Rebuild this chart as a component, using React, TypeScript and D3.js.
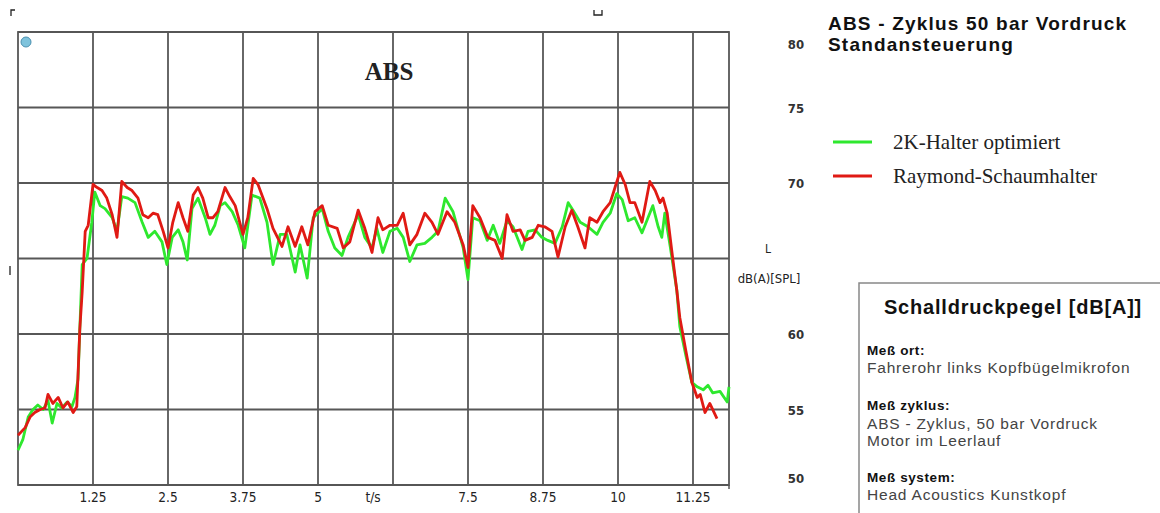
import React, { useRef, useEffect } from 'react';
import * as d3 from 'd3';

// time ticks (s) and their labels; 6.25 carries no label, "t/s" sits beside it
const xTicks = [1.25, 2.5, 3.75, 5, 6.25, 7.5, 8.75, 10, 11.25];
const xTickLabels = ['1.25', '2.5', '3.75', '5', '', '7.5', '8.75', '10', '11.25'];
const yTicks = [50, 55, 60, 65, 70, 75, 80];
const yTickLabels = ['50', '55', '60', '', '70', '75', '80'];

// [t in s, level in dB(A)]
const green2K = [
  [0, 52.3], [0.08, 53.0], [0.17, 54.5], [0.25, 55.0], [0.33, 55.3], [0.42, 55.0], [0.5, 55.6],
  [0.57, 54.1], [0.65, 55.4], [0.73, 55.1], [0.82, 55.5], [0.9, 55.2], [0.95, 55.8], [1.0, 57.0],
  [1.03, 60.3], [1.07, 64.6], [1.15, 65.0], [1.23, 67.4], [1.28, 69.4], [1.37, 68.5], [1.45, 68.3],
  [1.57, 67.7], [1.65, 66.8], [1.73, 69.1], [1.83, 69.0], [1.95, 68.7], [2.07, 67.4], [2.17, 66.4],
  [2.28, 66.8], [2.4, 66.1], [2.48, 64.6], [2.57, 66.4], [2.67, 66.9], [2.75, 66.1], [2.82, 64.9],
  [2.9, 68.3], [3.0, 69.0], [3.12, 67.7], [3.2, 66.6], [3.28, 67.2], [3.37, 68.5], [3.45, 68.7],
  [3.57, 68.1], [3.67, 67.2], [3.78, 65.7], [3.9, 69.2], [4.03, 69.0], [4.15, 67.4], [4.25, 64.6],
  [4.37, 66.6], [4.48, 66.6], [4.62, 64.1], [4.7, 65.9], [4.82, 63.7], [4.92, 67.7], [5.07, 68.3],
  [5.17, 66.8], [5.28, 65.7], [5.4, 65.2], [5.5, 66.4], [5.67, 67.9], [5.78, 66.4], [5.9, 65.7],
  [5.98, 67.0], [6.08, 65.4], [6.2, 66.8], [6.32, 67.0], [6.42, 66.4], [6.53, 64.8], [6.65, 65.9],
  [6.78, 66.0], [6.9, 66.4], [7.0, 66.8], [7.12, 69.0], [7.25, 68.1], [7.42, 65.7], [7.5, 63.6],
  [7.58, 67.7], [7.7, 67.5], [7.82, 66.2], [7.92, 67.2], [8.03, 66.0], [8.15, 67.5], [8.25, 67.1],
  [8.4, 65.6], [8.5, 66.8], [8.62, 66.9], [8.73, 66.4], [8.83, 66.2], [8.95, 66.0], [9.07, 67.1],
  [9.17, 68.7], [9.25, 68.2], [9.37, 67.4], [9.5, 67.1], [9.65, 66.6], [9.75, 67.4], [9.87, 68.0],
  [9.98, 69.3], [10.07, 68.9], [10.17, 67.5], [10.28, 67.7], [10.4, 66.7], [10.5, 67.7], [10.58, 68.5],
  [10.67, 67.1], [10.73, 66.4], [10.78, 68.0], [10.87, 65.8], [10.98, 62.9], [11.03, 60.5],
  [11.13, 58.6], [11.23, 56.8], [11.32, 56.5], [11.42, 56.3], [11.5, 56.6], [11.58, 56.1],
  [11.7, 56.2], [11.82, 55.5], [11.85, 56.5],
];

const redRaymond = [
  [0, 53.3], [0.12, 53.8], [0.2, 54.5], [0.28, 54.8], [0.37, 55.0], [0.45, 55.1], [0.5, 56.0],
  [0.58, 55.4], [0.67, 55.8], [0.75, 55.1], [0.83, 55.5], [0.92, 54.8], [0.98, 55.2], [1.03, 60.3],
  [1.07, 62.8], [1.12, 66.8], [1.17, 67.2], [1.25, 69.9], [1.32, 69.7], [1.4, 69.5], [1.48, 69.0],
  [1.57, 67.9], [1.65, 66.4], [1.73, 70.1], [1.82, 69.7], [1.9, 69.5], [2.0, 69.0], [2.08, 67.9],
  [2.17, 67.7], [2.25, 68.0], [2.33, 67.9], [2.42, 66.8], [2.5, 65.7], [2.58, 67.4], [2.67, 68.7],
  [2.75, 67.7], [2.83, 66.8], [2.92, 69.2], [3.0, 69.7], [3.08, 69.0], [3.17, 67.7], [3.25, 67.7],
  [3.33, 68.1], [3.45, 69.7], [3.53, 69.1], [3.62, 68.5], [3.75, 66.6], [3.83, 67.7], [3.92, 70.3],
  [4.0, 69.9], [4.15, 68.3], [4.25, 67.0], [4.4, 65.8], [4.5, 67.1], [4.62, 65.8], [4.73, 67.1],
  [4.83, 65.9], [4.95, 68.1], [5.07, 68.5], [5.17, 67.2], [5.32, 67.0], [5.42, 65.7], [5.53, 66.1],
  [5.67, 68.2], [5.78, 67.0], [5.9, 65.4], [6.0, 67.7], [6.08, 66.9], [6.2, 67.2], [6.32, 67.2],
  [6.42, 68.0], [6.53, 65.9], [6.65, 66.6], [6.78, 68.0], [6.9, 67.4], [7.0, 66.6], [7.15, 68.1],
  [7.28, 67.4], [7.42, 65.9], [7.5, 64.4], [7.58, 68.5], [7.7, 67.7], [7.83, 66.4], [7.95, 66.2],
  [8.07, 65.0], [8.15, 67.9], [8.25, 66.8], [8.37, 66.9], [8.45, 66.2], [8.57, 66.4], [8.67, 67.2],
  [8.78, 67.1], [8.9, 66.8], [9.0, 65.1], [9.12, 67.1], [9.23, 68.2], [9.33, 67.1], [9.45, 65.7],
  [9.53, 67.7], [9.65, 67.4], [9.75, 68.1], [9.87, 68.7], [9.95, 69.7], [10.03, 70.7], [10.12, 69.9],
  [10.2, 68.7], [10.28, 68.7], [10.4, 67.4], [10.53, 70.1], [10.62, 69.5], [10.7, 68.7], [10.75, 69.0],
  [10.82, 68.0], [10.9, 65.4], [10.98, 62.9], [11.03, 61.1], [11.13, 58.9], [11.23, 56.8],
  [11.32, 55.8], [11.37, 56.0], [11.45, 54.8], [11.53, 55.4], [11.65, 54.4],
];

const legendItems = [
  { label: '2K-Halter optimiert', color: '#2ee82e' },
  { label: 'Raymond-Schaumhalter', color: '#e01a14' },
];

const infoLines = [
  { text: 'Meß ort:', bold: true },
  { text: 'Fahrerohr links  Kopfbügelmikrofon', bold: false },
  { text: 'Meß zyklus:', bold: true },
  { text: 'ABS - Zyklus, 50 bar Vordruck', bold: false },
  { text: 'Motor im Leerlauf', bold: false },
  { text: 'Meß system:', bold: true },
  { text: 'Head Acoustics Kunstkopf', bold: false },
];
const infoBaselines = [355, 373, 410, 429, 446, 482, 500];

const narrow = "'Liberation Sans Narrow', 'DejaVu Sans Condensed', 'Liberation Sans', Arial, sans-serif";
const sans = "'Liberation Sans', Arial, sans-serif";
const serif = "'Liberation Serif', 'Times New Roman', serif";

export default function App() {
  const svgRef = useRef(null);

  useEffect(() => {
    const svg = d3.select(svgRef.current);
    svg.selectAll('*').remove();

    const plot = { left: 18, right: 729, top: 32, bottom: 485 };
    const x = d3.scaleLinear().domain([0, 11.85]).range([plot.left, plot.right]);
    const y = d3.scaleLinear().domain([50, 80]).range([plot.bottom, plot.top]);
    const gridColor = '#575757';

    svg.append('rect').attr('width', 1160).attr('height', 513).attr('fill', '#fff');

    // grid
    const grid = svg.append('g');
    grid.selectAll('.vgrid')
      .data(xTicks)
      .enter()
      .append('line')
      .attr('x1', d => x(d)).attr('x2', d => x(d))
      .attr('y1', plot.top).attr('y2', plot.bottom)
      .attr('stroke', gridColor).attr('stroke-width', 1.8);
    grid.selectAll('.hgrid')
      .data(yTicks)
      .enter()
      .append('line')
      .attr('x1', plot.left).attr('x2', plot.right)
      .attr('y1', d => y(d)).attr('y2', d => y(d))
      .attr('stroke', gridColor).attr('stroke-width', 1.8);
    grid.append('rect')
      .attr('x', plot.left).attr('y', plot.top)
      .attr('width', plot.right - plot.left).attr('height', plot.bottom - plot.top)
      .attr('fill', 'none').attr('stroke', gridColor).attr('stroke-width', 1.8);
    grid.append('line')
      .attr('x1', plot.right).attr('x2', plot.right)
      .attr('y1', plot.bottom).attr('y2', plot.bottom + 4)
      .attr('stroke', gridColor).attr('stroke-width', 1.5);

    // x tick labels
    svg.selectAll('.xlab')
      .data(xTicks)
      .enter()
      .append('text')
      .attr('x', d => x(d))
      .attr('y', 502)
      .attr('text-anchor', 'middle')
      .attr('font-family', narrow)
      .attr('font-size', 13.5)
      .attr('fill', '#222')
      .text((d, i) => xTickLabels[i]);
    svg.append('text')
      .attr('x', 373).attr('y', 502)
      .attr('text-anchor', 'middle')
      .attr('font-family', narrow).attr('font-size', 13.5).attr('fill', '#222')
      .text('t/s');

    // y tick labels on the right
    svg.selectAll('.ylab')
      .data(yTicks)
      .enter()
      .append('text')
      .attr('x', 796)
      .attr('y', d => Math.min(Math.max(y(d), 44), 478) + 5)
      .attr('text-anchor', 'middle')
      .attr('font-family', narrow)
      .attr('font-weight', 'bold')
      .attr('font-size', 13)
      .attr('fill', '#333')
      .text((d, i) => yTickLabels[i]);
    svg.append('text')
      .attr('x', 768).attr('y', 253)
      .attr('text-anchor', 'middle')
      .attr('font-family', narrow).attr('font-size', 12).attr('fill', '#222')
      .text('L');
    svg.append('text')
      .attr('x', 769).attr('y', 283)
      .attr('text-anchor', 'middle')
      .attr('font-family', narrow).attr('font-size', 13).attr('fill', '#222')
      .text('dB(A)[SPL]');

    // curves
    const line = d3.line()
      .x(d => x(d[0]))
      .y(d => y(d[1]));
    svg.append('path')
      .datum(green2K)
      .attr('d', line)
      .attr('fill', 'none')
      .attr('stroke', legendItems[0].color)
      .attr('stroke-width', 2.8)
      .attr('stroke-linejoin', 'round');
    svg.append('path')
      .datum(redRaymond)
      .attr('d', line)
      .attr('fill', 'none')
      .attr('stroke', legendItems[1].color)
      .attr('stroke-width', 2.8)
      .attr('stroke-linejoin', 'round');

    // small blue marker in the corner of the plot
    svg.append('circle')
      .attr('cx', 26).attr('cy', 42).attr('r', 5)
      .attr('fill', '#7fc3dc').attr('stroke', '#4a90b0').attr('stroke-width', 1);

    // editing marks
    svg.append('path').attr('d', 'M11,16 V10 H15').attr('fill', 'none').attr('stroke', '#222').attr('stroke-width', 1.3);
    svg.append('path').attr('d', 'M594,10 V15 H602 V10').attr('fill', 'none').attr('stroke', '#222').attr('stroke-width', 1.3);
    svg.append('path').attr('d', 'M10,266 V275').attr('fill', 'none').attr('stroke', '#222').attr('stroke-width', 1.3);

    // inner title
    svg.append('text')
      .attr('x', 389).attr('y', 80)
      .attr('text-anchor', 'middle')
      .attr('font-family', serif).attr('font-weight', 'bold').attr('font-size', 25)
      .attr('fill', '#222')
      .text('ABS');

    // right-hand title
    const title = svg.append('text')
      .attr('font-family', sans).attr('font-weight', 'bold').attr('font-size', 19)
      .attr('letter-spacing', 1.2)
      .attr('fill', '#111');
    title.append('tspan').attr('x', 828).attr('y', 30).text('ABS - Zyklus 50 bar Vordruck');
    title.append('tspan').attr('x', 828).attr('y', 51).text('Standansteuerung');

    // legend
    const legend = svg.selectAll('.legend')
      .data(legendItems)
      .enter()
      .append('g')
      .attr('transform', (d, i) => `translate(833, ${142 + i * 34})`);
    legend.append('line')
      .attr('x1', 0).attr('x2', 39)
      .attr('stroke', d => d.color).attr('stroke-width', 2.8);
    legend.append('text')
      .attr('x', 60).attr('y', 7)
      .attr('font-family', serif).attr('font-size', 21)
      .attr('fill', '#222')
      .text(d => d.label);

    // info box
    svg.append('rect')
      .attr('x', 859).attr('y', 283).attr('width', 320).attr('height', 260)
      .attr('fill', '#fff').attr('stroke', '#888').attr('stroke-width', 1.5);
    svg.append('text')
      .attr('x', 1013).attr('y', 314)
      .attr('text-anchor', 'middle')
      .attr('font-family', sans).attr('font-weight', 'bold').attr('font-size', 20)
      .attr('letter-spacing', 0.8)
      .attr('fill', '#111')
      .text('Schalldruckpegel [dB[A]]');
    svg.selectAll('.info')
      .data(infoLines)
      .enter()
      .append('text')
      .attr('x', 867)
      .attr('y', (d, i) => infoBaselines[i])
      .attr('font-family', sans)
      .attr('font-weight', d => (d.bold ? 'bold' : 'normal'))
      .attr('font-size', d => (d.bold ? 13.5 : 15.5))
      .attr('letter-spacing', d => (d.bold ? 0.6 : 0.8))
      .attr('fill', d => (d.bold ? '#111' : '#444'))
      .text(d => d.text);
  }, []);

  return (
    <svg
      ref={svgRef}
      width={1160}
      height={513}
      style={{ position: 'absolute', left: 0, top: 0 }}
    />
  );
}
